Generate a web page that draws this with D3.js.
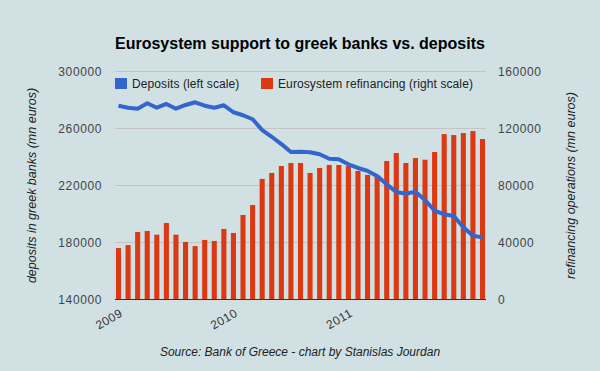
<!DOCTYPE html>
<html><head><meta charset="utf-8">
<script src="https://cdn.jsdelivr.net/npm/d3@7"></script>
<style>
html,body{margin:0;padding:0;background:#d0e0e3;}
svg{display:block;font-family:Arial,"Liberation Sans",sans-serif;}
</style></head>
<body><svg id="c" width="600" height="371"></svg>
<script>
const months = ["2009-01","2009-02","2009-03","2009-04","2009-05","2009-06","2009-07","2009-08","2009-09","2009-10","2009-11","2009-12",
"2010-01","2010-02","2010-03","2010-04","2010-05","2010-06","2010-07","2010-08","2010-09","2010-10","2010-11","2010-12",
"2011-01","2011-02","2011-03","2011-04","2011-05","2011-06","2011-07","2011-08","2011-09","2011-10","2011-11","2011-12",
"2012-01","2012-02","2012-03"];
const deposits = [276000,274600,273900,277700,274600,277200,273900,276500,278400,276000,274600,276300,
271400,269300,266500,258900,254200,249100,243500,243600,243300,241900,238800,238400,
234900,232300,230200,226700,220800,215400,214200,215600,209800,202300,199800,198600,
190700,184800,183600];
const refinancing = [36100,38200,47400,48100,45500,53700,45500,40400,37500,41800,41100,49500,
46700,59300,66300,84600,88800,93700,95800,95800,88800,92300,94400,94400,
93700,90200,87400,86400,97200,102800,95800,99300,98100,103500,116100,115400,
116800,118200,112600];
const yearTicks = ["2009-01","2010-01","2011-01"];
const yearLabels = ["2009","2010","2011"];
const leftTicks = [140000,180000,220000,260000,300000];
const rightTicks = [0,40000,80000,120000,160000];

const svg = d3.select("#c");
const L = 115, R = 486, T = 71.5, B = 299.5;

svg.append("rect").attr("width",600).attr("height",371).attr("fill","#d0e0e3");

const x = d3.scaleBand().domain(months).range([L,R]).paddingInner(0.47).paddingOuter(0.1);
const yL = d3.scaleLinear().domain([140000,300000]).range([B,T]);
const yR = d3.scaleLinear().domain([0,160000]).range([B,T]);

// gridlines
svg.append("g").selectAll("line").data(leftTicks.slice(1)).join("line")
  .attr("x1",L).attr("x2",R).attr("y1",d=>yL(d)).attr("y2",d=>yL(d))
  .attr("stroke","#c4c4c4").attr("stroke-width",1).attr("shape-rendering","crispEdges");

// bars
svg.append("g").selectAll("rect").data(refinancing).join("rect")
  .attr("x",(d,i)=>x(months[i])).attr("width",x.bandwidth())
  .attr("y",d=>yR(d)).attr("height",d=>B-yR(d))
  .attr("fill","#dc3912");

// baseline
svg.append("line").attr("x1",L).attr("x2",R).attr("y1",B).attr("y2",B)
  .attr("stroke","#333").attr("stroke-width",1.2);

// line
const line = d3.line().x((d,i)=>x(months[i])+x.bandwidth()/2).y(d=>yL(d));
svg.append("path").datum(deposits).attr("d",line).attr("fill","none")
  .attr("stroke","#3366cc").attr("stroke-width",4).attr("stroke-linejoin","round");

// left axis
const axL = d3.axisLeft(yL).tickValues(leftTicks).tickSize(0).tickPadding(13).tickFormat(d3.format("d"));
const gL = svg.append("g").attr("transform",`translate(${L},0)`).call(axL);
gL.select(".domain").remove();
gL.selectAll("text").attr("font-size",12).attr("fill","#444").attr("font-family","Arial,'Liberation Sans',sans-serif").attr("letter-spacing","0.6px");

// right axis
const axR = d3.axisRight(yR).tickValues(rightTicks).tickSize(0).tickPadding(12).tickFormat(d3.format("d"));
const gR = svg.append("g").attr("transform",`translate(${R},0)`).call(axR);
gR.select(".domain").remove();
gR.selectAll("text").attr("font-size",12).attr("fill","#444").attr("font-family","Arial,'Liberation Sans',sans-serif").attr("letter-spacing","0.6px");

// x labels
svg.append("g").selectAll("text").data(yearTicks).join("text")
  .attr("transform",d=>`translate(${x(d)+x.bandwidth()/2+5},${B+16}) rotate(-30)`)
  .attr("text-anchor","end").attr("font-size",12).attr("fill","#333").attr("letter-spacing","0.5px")
  .text((d,i)=>yearLabels[i]);

// title
svg.append("text").attr("x",L).attr("y",49).attr("font-size",16).attr("font-weight","bold").attr("fill","#000")
  .text("Eurosystem support to greek banks vs. deposits");

// legend
const leg = [{c:"#3366cc",t:"Deposits (left scale)",x:115},{c:"#dc3912",t:"Eurosystem refinancing (right scale)",x:261}];
const lg = svg.append("g");
lg.selectAll("rect").data(leg).join("rect").attr("x",d=>d.x).attr("y",78).attr("width",12).attr("height",11).attr("fill",d=>d.c);
lg.selectAll("text").data(leg).join("text").attr("x",d=>d.x+17).attr("y",88).attr("font-size",12).attr("fill","#222").attr("letter-spacing","0.1px").text(d=>d.t);

// axis titles
svg.append("text").attr("transform",`translate(35.5,${(T+B)/2}) rotate(-90)`).attr("text-anchor","middle")
  .attr("font-size",12.5).attr("font-style","italic").attr("fill","#222").text("deposits in greek banks (mn euros)");
svg.append("text").attr("transform",`translate(575,${(T+B)/2}) rotate(-90)`).attr("text-anchor","middle")
  .attr("font-size",12.5).attr("font-style","italic").attr("fill","#222").text("refinancing operations (mn euros)");

// source
svg.append("text").attr("x",300).attr("y",356).attr("text-anchor","middle")
  .attr("font-size",12).attr("font-style","italic").attr("fill","#222").text("Source: Bank of Greece - chart by Stanislas Jourdan");
</script></body></html>
